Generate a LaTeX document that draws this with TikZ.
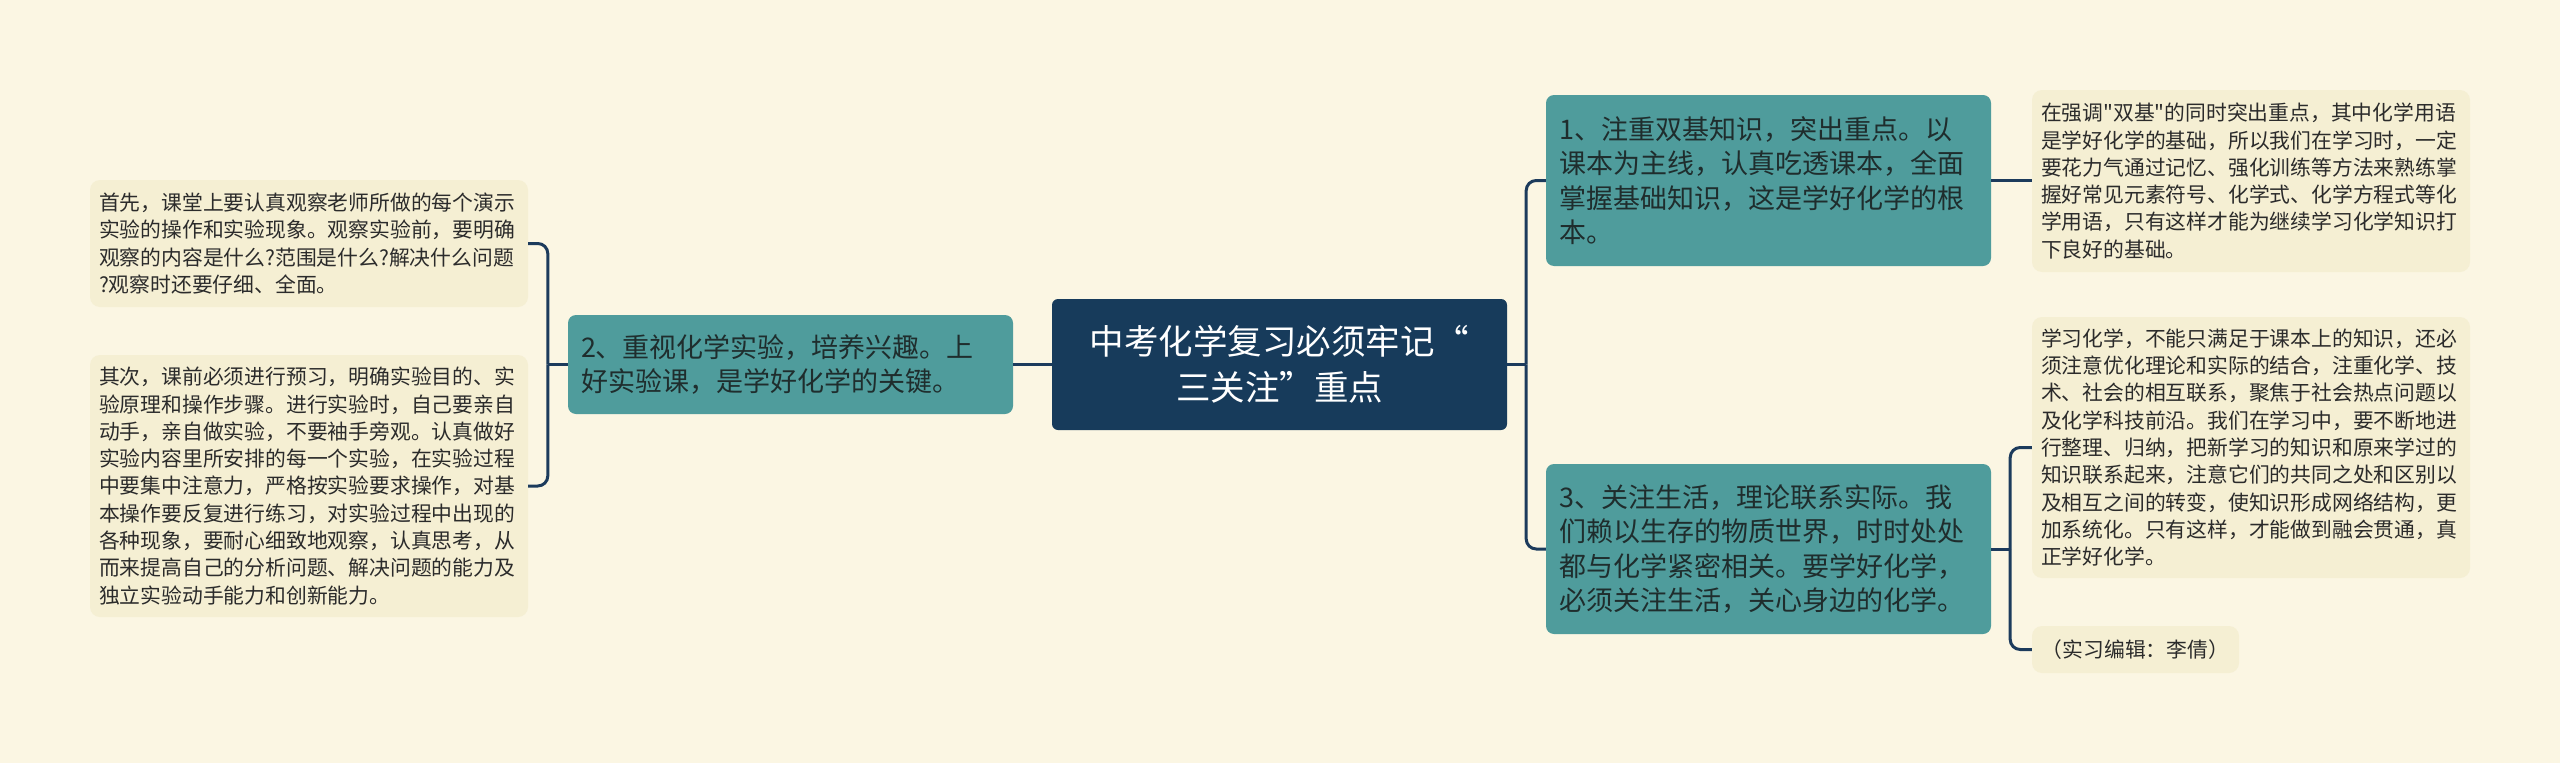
\documentclass[tikz,border=0pt]{standalone}
\usepackage{fontspec}
\setmainfont{Noto Sans CJK SC}[Ligatures=TeXOff]
\definecolor{bgc}{HTML}{FBF6E3}
\definecolor{leafc}{HTML}{F5EFD3}
\definecolor{tealc}{HTML}{4F9C9C}
\definecolor{rootc}{HTML}{173B5B}
\definecolor{linec}{HTML}{1C3B5C}
\definecolor{txtc}{HTML}{2B2B2B}
\definecolor{maintxt}{HTML}{1F2D2D}
\begin{document}
\begin{tikzpicture}[x=1pt,y=-1pt,
  conn/.style={draw=linec, line width=3pt, rounded corners=10pt},
  rootbox/.style={fill=rootc, rounded corners=6pt, text=white, align=center,
    font=\fontsize{34.5}{46}\selectfont, minimum width=455pt, minimum height=131pt, inner sep=0pt},
  mainbox/.style={fill=tealc, rounded corners=8pt, text=maintxt, align=left,
    font=\fontsize{27}{34.5}\selectfont, inner xsep=13pt, inner ysep=0pt, text width=419pt},
  leafbox/.style={fill=leafc, rounded corners=10pt, text=txtc, align=left,
    font=\fontsize{20.8}{27.3}\selectfont, inner xsep=9pt, inner ysep=0pt, text width=420pt},
]
\fill[bgc] (0,0) rectangle (2560,763);
\useasboundingbox (0,0) rectangle (2560,763);

\node[rootbox] (root) at (1279.5,364.5) {中考化学复习必须牢记“\\三关注”重点};

\node[mainbox, minimum height=171pt] (n1) at (1768.5,180.5)
  {1、注重双基知识，突出重点。以\\课本为主线，认真吃透课本，全面\\掌握基础知识，这是学好化学的根\\本。};
\node[mainbox, minimum height=99pt] (n2) at (790.5,364.5)
  {2、重视化学实验，培养兴趣。上\\好实验课，是学好化学的关键。};
\node[mainbox, minimum height=170pt] (n3) at (1768.5,549)
  {3、关注生活，理论联系实际。我\\们赖以生存的物质世界，时时处处\\都与化学紧密相关。要学好化学，\\必须关注生活，关心身边的化学。};

\node[leafbox, minimum height=127pt] (L1) at (309,243.5)
  {首先，课堂上要认真观察老师所做的每个演示\\实验的操作和实验现象。观察实验前，要明确\\观察的内容是什么?范围是什么?解决什么问题\\?观察时还要仔细、全面。};
\node[leafbox, minimum height=262pt] (L2) at (309,486)
  {其次，课前必须进行预习，明确实验目的、实\\验原理和操作步骤。进行实验时，自己要亲自\\动手，亲自做实验，不要袖手旁观。认真做好\\实验内容里所安排的每一个实验，在实验过程\\中要集中注意力，严格按实验要求操作，对基\\本操作要反复进行练习，对实验过程中出现的\\各种现象，要耐心细致地观察，认真思考，从\\而来提高自己的分析问题、解决问题的能力及\\独立实验动手能力和创新能力。};

\node[leafbox, minimum height=182pt] (R1) at (2251,181)
  {在强调"双基"的同时突出重点，其中化学用语\\是学好化学的基础，所以我们在学习时，一定\\要花力气通过记忆、强化训练等方法来熟练掌\\握好常见元素符号、化学式、化学方程式等化\\学用语，只有这样才能为继续学习化学知识打\\下良好的基础。};
\node[leafbox, minimum height=261pt] (R2) at (2251,447.5)
  {学习化学，不能只满足于课本上的知识，还必\\须注意优化理论和实际的结合，注重化学、技\\术、社会的相互联系，聚焦于社会热点问题以\\及化学科技前沿。我们在学习中，要不断地进\\行整理、归纳，把新学习的知识和原来学过的\\知识联系起来，注意它们的共同之处和区别以\\及相互之间的转变，使知识形成网络结构，更\\加系统化。只有这样，才能做到融会贯通，真\\正学好化学。};
\node[leafbox, text width=, align=center, inner xsep=0pt, minimum width=207pt, minimum height=47pt] (R3) at (2135.5,649.5)
  {（实习编辑：李倩）};

% connectors
\coordinate (jR) at ([xshift=19pt]root.east);
\draw[conn] (root.east) -- (jR);
\draw[conn] (jR) |- (n1.west);
\draw[conn] (jR) |- (n3.west);

\draw[conn] (root.west) -- (n2.east);
\coordinate (jL) at ([xshift=-20pt]n2.west);
\draw[conn] (n2.west) -- (jL);
\draw[conn] (jL) |- (L1.east);
\draw[conn] (jL) |- (L2.east);

\draw[conn] (n1.east) -- (n1.east -| R1.west);
\coordinate (jR3) at ([xshift=19pt]n3.east);
\draw[conn] (n3.east) -- (jR3);
\draw[conn] (jR3) |- (R2.west);
\draw[conn] (jR3) |- (R3.west);
\end{tikzpicture}
\end{document}
